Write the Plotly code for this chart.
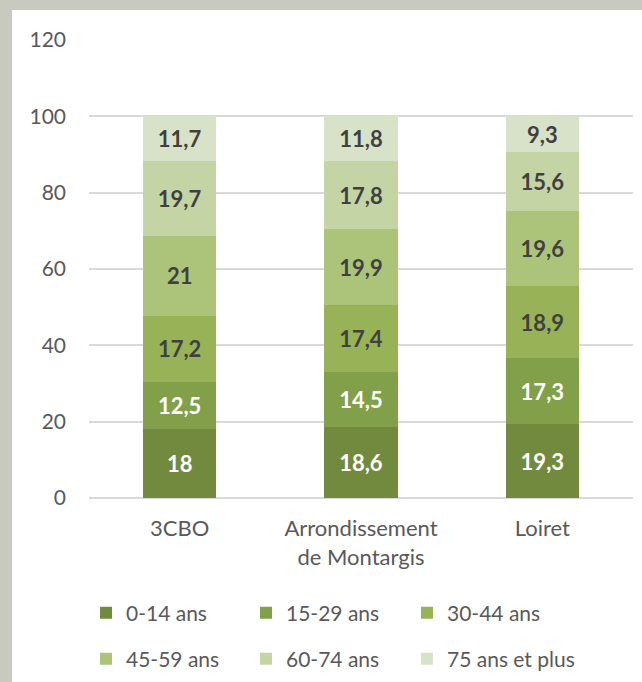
import plotly.graph_objects as go

categories = ["3CBO", "Arrondissement<br>de Montargis", "Loiret"]
series_names = ["0-14 ans", "15-29 ans", "30-44 ans", "45-59 ans", "60-74 ans", "75 ans et plus"]
v_0_14 = [18, 18.6, 19.3]
v_15_29 = [12.5, 14.5, 17.3]
v_30_44 = [17.2, 17.4, 18.9]
v_45_59 = [21, 19.9, 19.6]
v_60_74 = [19.7, 17.8, 15.6]
v_75 = [11.7, 11.8, 9.3]
series_values = [v_0_14, v_15_29, v_30_44, v_45_59, v_60_74, v_75]
colors = ["#728a3e", "#829f4a", "#98b257", "#abc47a", "#c4d4a5", "#d8e2c8"]
text_colors = ["#ffffff", "#ffffff", "#404040", "#404040", "#404040", "#404040"]
y_ticks = [0, 20, 40, 60, 80, 100, 120]

FONT = "Lato, 'Open Sans', sans-serif"
BORDER = "#c9cabf"

W, H = 642, 682
ml, mr, mt, mb = 89, 9, 40, 184
pw, ph = W - ml - mr, H - mt - mb

def px_x(x):
    return (x - ml) / pw

def px_y(y):
    return (H - mb - y) / ph

leg_x = [86, 246, 407, 86, 246, 407]
leg_y = [613, 613, 613, 659, 659, 659]
legend_ids = ["legend", "legend2", "legend3", "legend4", "legend5", "legend6"]

fig = go.Figure()
for name, vals, col, tcol, lg in zip(series_names, series_values, colors, text_colors, legend_ids):
    fig.add_trace(go.Bar(
        x=categories, y=vals, name=name, legend=lg,
        marker=dict(color=col, line=dict(width=0)),
        text=[("%g" % v).replace(".", ",") for v in vals],
        textposition="inside", insidetextanchor="middle", textangle=0,
        textfont=dict(family=FONT, size=22, color=tcol, weight="bold"),
        constraintext="none",
    ))

# grey frame strips (left and top) around the white panel
fig.add_shape(type="rect", xref="paper", yref="paper",
              x0=px_x(-5), x1=px_x(12), y0=px_y(H + 5), y1=px_y(-5),
              fillcolor=BORDER, line=dict(width=0), layer="below")
fig.add_shape(type="rect", xref="paper", yref="paper",
              x0=px_x(-5), x1=px_x(W + 5), y0=px_y(10), y1=px_y(-5),
              fillcolor=BORDER, line=dict(width=0), layer="below")

legends = {}
for lg, lx, ly in zip(legend_ids, leg_x, leg_y):
    legends[lg] = dict(
        orientation="h", xanchor="left", yanchor="middle",
        xref="container", yref="container",
        x=lx / W, y=1 - ly / H,
        font=dict(family=FONT, size=21, color="#595959"),
        itemclick=False, itemdoubleclick=False,
        bgcolor="rgba(0,0,0,0)",
    )

fig.update_layout(
    width=W, height=H,
    margin=dict(l=ml, r=mr, t=mt, b=mb, autoexpand=False),
    paper_bgcolor="white",
    plot_bgcolor="rgba(0,0,0,0)",
    barmode="stack",
    bargap=0.597,
    font=dict(family=FONT, color="#595959", size=21),
    showlegend=True,
    xaxis=dict(showgrid=False, showline=False, ticks="", automargin=False,
               ticklabelstandoff=15, tickfont=dict(size=22, color="#595959")),
    yaxis=dict(range=[0, 120], tickvals=y_ticks, showgrid=True, gridcolor="#d9d9d9", gridwidth=1.5,
               zeroline=True, zerolinecolor="#d9d9d9", zerolinewidth=1.5, automargin=False,
               ticks="", ticklabelstandoff=22, tickfont=dict(size=21, color="#595959")),
    **legends,
)

fig.write_html(
    "out.html",
    config={"displayModeBar": False},
    post_script=(
        "document.documentElement.style.margin='0';"
        "document.body.style.margin='0';"
        "document.documentElement.style.overflow='hidden';"
        "document.body.style.overflow='hidden';"
    ),
)
